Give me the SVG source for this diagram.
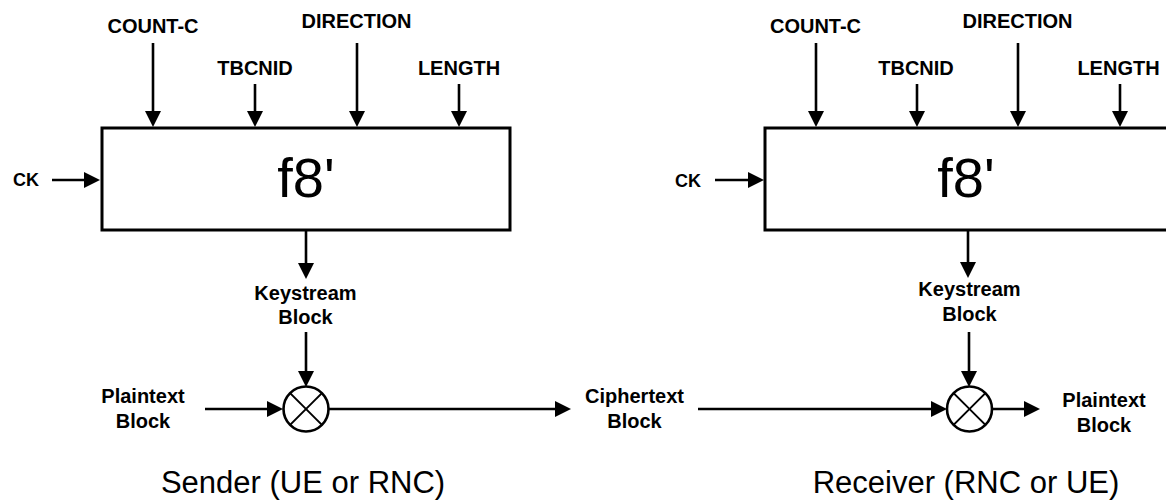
<svg xmlns="http://www.w3.org/2000/svg" width="1166" height="501" viewBox="0 0 1166 501">
<style>
.box{fill:#fff;stroke:#000;stroke-width:3}
.ln{fill:none;stroke:#000;stroke-width:2.6}
.xor{fill:#fff;stroke:#000;stroke-width:2.6}
.x{stroke:#000;stroke-width:2}
.lb{font-family:"Liberation Sans",Arial,sans-serif;font-weight:bold;font-size:20px;text-anchor:middle;fill:#000}
.ck{font-family:"Liberation Sans",Arial,sans-serif;font-weight:bold;font-size:18px;text-anchor:middle;fill:#000}
.fn{font-family:"Liberation Sans",Arial,sans-serif;font-size:56px;text-anchor:middle;fill:#000}
.cap{font-family:"Liberation Sans",Arial,sans-serif;font-size:31px;text-anchor:middle;fill:#000}
</style>
<defs>
<marker id="ah" viewBox="0 0 16 16" refX="6" refY="8" markerWidth="16" markerHeight="16" markerUnits="userSpaceOnUse" orient="auto">
<path d="M0,0 L16,8 L0,16 z" fill="#000"/>
</marker>
</defs>

<g id="sender-f8">
<rect class="box" x="102" y="128" width="408" height="102"/>
<text class="fn" x="306" y="197">f8'</text>
</g>
<g id="receiver-f8">
<rect class="box" x="765" y="128" width="410" height="102"/>
<text class="fn" x="966" y="197">f8'</text>
</g>

<g id="sender-xor">
<circle class="xor" cx="306" cy="409" r="22.5"/>
<line class="x" x1="290.1" y1="393.1" x2="321.9" y2="424.9"/>
<line class="x" x1="290.1" y1="424.9" x2="321.9" y2="393.1"/>
</g>
<g id="receiver-xor">
<circle class="xor" cx="969.5" cy="409" r="22.5"/>
<line class="x" x1="953.6" y1="393.1" x2="985.4" y2="424.9"/>
<line class="x" x1="953.6" y1="424.9" x2="985.4" y2="393.1"/>
</g>

<g id="labels-sender">
<text class="lb" x="153" y="33">COUNT-C</text>
<text class="lb" x="356.5" y="28">DIRECTION</text>
<text class="lb" x="255" y="75">TBCNID</text>
<text class="lb" x="459" y="75">LENGTH</text>
<text class="ck" x="26" y="186">CK</text>
<text class="lb" x="305.5" y="300">Keystream</text>
<text class="lb" x="305.5" y="324">Block</text>
<text class="lb" x="143" y="403">Plaintext</text>
<text class="lb" x="143" y="428">Block</text>
<text class="cap" x="303" y="493">Sender (UE or RNC)</text>
</g>
<g id="label-ciphertext">
<text class="lb" x="634.5" y="403">Ciphertext</text>
<text class="lb" x="634.5" y="428">Block</text>
</g>
<g id="labels-receiver">
<text class="lb" x="815.5" y="33">COUNT-C</text>
<text class="lb" x="1017.5" y="28">DIRECTION</text>
<text class="lb" x="916" y="75">TBCNID</text>
<text class="lb" x="1118.5" y="75">LENGTH</text>
<text class="ck" x="688" y="187">CK</text>
<text class="lb" x="969.5" y="296">Keystream</text>
<text class="lb" x="969.5" y="321">Block</text>
<text class="lb" x="1104" y="407">Plaintext</text>
<text class="lb" x="1104" y="432">Block</text>
<text class="cap" x="966" y="493">Receiver (RNC or UE)</text>
</g>

<g id="connectors">
<line class="ln" x1="153" y1="43" x2="153" y2="117" marker-end="url(#ah)"/>
<line class="ln" x1="255" y1="84" x2="255" y2="117" marker-end="url(#ah)"/>
<line class="ln" x1="357" y1="43" x2="357" y2="117" marker-end="url(#ah)"/>
<line class="ln" x1="459" y1="84" x2="459" y2="117" marker-end="url(#ah)"/>
<line class="ln" x1="52" y1="180" x2="90" y2="180" marker-end="url(#ah)"/>
<line class="ln" x1="306" y1="231" x2="306" y2="269" marker-end="url(#ah)"/>
<line class="ln" x1="306" y1="332" x2="306" y2="377" marker-end="url(#ah)"/>
<line class="ln" x1="205" y1="409" x2="273" y2="409" marker-end="url(#ah)"/>
<line class="ln" x1="328.5" y1="409" x2="561" y2="409" marker-end="url(#ah)"/>

<line class="ln" x1="816" y1="43" x2="816" y2="117" marker-end="url(#ah)"/>
<line class="ln" x1="917" y1="84" x2="917" y2="117" marker-end="url(#ah)"/>
<line class="ln" x1="1018" y1="43" x2="1018" y2="117" marker-end="url(#ah)"/>
<line class="ln" x1="1120" y1="84" x2="1120" y2="117" marker-end="url(#ah)"/>
<line class="ln" x1="715" y1="180" x2="754" y2="180" marker-end="url(#ah)"/>
<line class="ln" x1="968" y1="231" x2="968" y2="268" marker-end="url(#ah)"/>
<line class="ln" x1="969" y1="332" x2="969" y2="377" marker-end="url(#ah)"/>
<line class="ln" x1="698" y1="409" x2="937" y2="409" marker-end="url(#ah)"/>
<line class="ln" x1="992" y1="409" x2="1030" y2="409" marker-end="url(#ah)"/>
</g>
</svg>
